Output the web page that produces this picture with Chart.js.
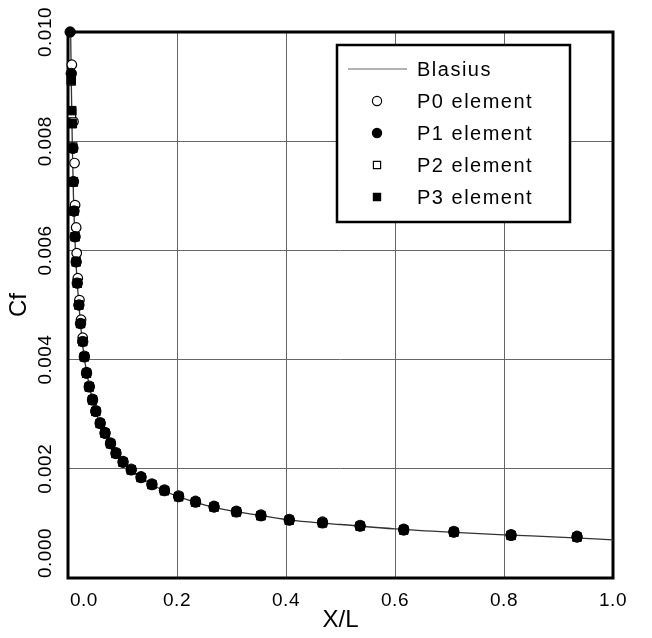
<!DOCTYPE html>
<html>
<head>
<meta charset="utf-8">
<script src="https://cdn.jsdelivr.net/npm/chart.js@4.4.1/dist/chart.umd.min.js"></script>
<style>
  html, body { margin: 0; padding: 0; background: #fff; }
  #wrap { width: 652px; height: 638px; }
</style>
</head>
<body>
<div id="wrap"><canvas id="cf"></canvas></div>
<script>
// values
const blasiusX  = [0.005, 0.006, 0.008, 0.010, 0.012, 0.014, 0.017, 0.020, 0.025, 0.030, 0.035, 0.040, 0.050, 0.060, 0.070, 0.080, 0.090, 0.100, 0.120, 0.140, 0.160, 0.180, 0.200, 0.250, 0.300, 0.350, 0.400, 0.450, 0.500, 0.600, 0.700, 0.800, 0.900, 1.000];
const blasiusCf = [0.0099, 0.0091, 0.0079, 0.0070, 0.0064, 0.0059, 0.0054, 0.00500, 0.00445, 0.00402, 0.00373, 0.00348, 0.00308, 0.00280, 0.00261, 0.00243, 0.00228, 0.00214, 0.00195, 0.00180, 0.00168, 0.00158, 0.00150, 0.00134, 0.00123, 0.00115, 0.00107, 0.00102, 0.00098, 0.00090, 0.00084, 0.00079, 0.00075, 0.00070];

const p0X  = [0.007, 0.010, 0.012, 0.013, 0.015, 0.016, 0.018, 0.021, 0.024, 0.027, 0.030, 0.034, 0.039, 0.045, 0.051, 0.059, 0.068, 0.078, 0.088, 0.101, 0.116, 0.134, 0.154, 0.177, 0.203, 0.234, 0.268, 0.309, 0.354, 0.406, 0.467, 0.536, 0.616, 0.708, 0.813, 0.934];
const p0Cf = [0.00940, 0.00836, 0.00760, 0.00683, 0.00642, 0.00595, 0.00549, 0.00509, 0.00473, 0.00440, 0.00407, 0.00377, 0.00352, 0.00328, 0.00307, 0.00285, 0.00267, 0.00248, 0.00230, 0.00214, 0.00200, 0.00186, 0.00173, 0.00162, 0.00151, 0.00141, 0.00132, 0.00123, 0.00116, 0.00108, 0.00103, 0.00097, 0.00090, 0.00086, 0.00080, 0.00077];

const p1X  = [0.004, 0.006, 0.009, 0.010, 0.011, 0.013, 0.015, 0.017, 0.020, 0.023, 0.027, 0.030, 0.034, 0.039, 0.045, 0.051, 0.059, 0.068, 0.078, 0.088, 0.101, 0.116, 0.134, 0.154, 0.177, 0.203, 0.234, 0.268, 0.309, 0.354, 0.406, 0.467, 0.536, 0.616, 0.708, 0.813, 0.934];
const p1Cf = [0.01000, 0.00924, 0.00787, 0.00726, 0.00672, 0.00625, 0.00579, 0.00540, 0.00500, 0.00466, 0.00433, 0.00405, 0.00375, 0.00350, 0.00326, 0.00305, 0.00283, 0.00265, 0.00246, 0.00228, 0.00212, 0.00198, 0.00184, 0.00171, 0.00160, 0.00149, 0.00139, 0.00130, 0.00121, 0.00114, 0.00106, 0.00101, 0.00095, 0.00088, 0.00084, 0.00078, 0.00075];

const p2X  = [0.006, 0.007, 0.009, 0.010, 0.011, 0.013, 0.015, 0.017, 0.020, 0.023, 0.027, 0.030, 0.034, 0.039, 0.045, 0.051, 0.059, 0.068, 0.078, 0.088, 0.101, 0.116, 0.134, 0.154, 0.177, 0.203, 0.234, 0.268, 0.309, 0.354, 0.406, 0.467, 0.536, 0.616, 0.708, 0.813, 0.934];
const p2Cf = [0.00910, 0.00850, 0.00790, 0.00725, 0.00672, 0.00625, 0.00579, 0.00540, 0.00500, 0.00466, 0.00433, 0.00405, 0.00375, 0.00350, 0.00326, 0.00305, 0.00283, 0.00265, 0.00246, 0.00228, 0.00212, 0.00198, 0.00184, 0.00171, 0.00160, 0.00149, 0.00139, 0.00130, 0.00121, 0.00114, 0.00106, 0.00101, 0.00095, 0.00088, 0.00084, 0.00078, 0.00075];

const p3X  = [0.006, 0.007, 0.008, 0.009, 0.010, 0.011, 0.013, 0.015, 0.017, 0.020, 0.023, 0.027, 0.030, 0.034, 0.039, 0.045, 0.051, 0.059, 0.068, 0.078, 0.088, 0.101, 0.116, 0.134, 0.154, 0.177, 0.203, 0.234, 0.268, 0.309, 0.354, 0.406, 0.467, 0.536, 0.616, 0.708, 0.813, 0.934];
const p3Cf = [0.00912, 0.00856, 0.00832, 0.00787, 0.00726, 0.00672, 0.00625, 0.00579, 0.00540, 0.00500, 0.00466, 0.00433, 0.00405, 0.00375, 0.00350, 0.00326, 0.00305, 0.00283, 0.00265, 0.00246, 0.00228, 0.00212, 0.00198, 0.00184, 0.00171, 0.00160, 0.00149, 0.00139, 0.00130, 0.00121, 0.00114, 0.00106, 0.00101, 0.00095, 0.00088, 0.00084, 0.00078, 0.00075];

const seriesLabels = ['Blasius', 'P0 element', 'P1 element', 'P2 element', 'P3 element'];
const xTicks = { min: 0, max: 1, step: 0.2 };
const yTicks = { min: 0, max: 0.010, step: 0.002 };

const FONT = '"Liberation Sans", Arial, Helvetica, sans-serif';
const toPoints = (xs, ys) => xs.map((x, i) => ({ x: x, y: ys[i] }));

let drawMarker = (ctx, style, r, filled, x, y) => {
    ctx.beginPath();
    if (style === 'rect') {
        ctx.rect(x - r, y - r, 2 * r, 2 * r);
    } else {
        ctx.arc(x, y, r, 0, Math.PI * 2);
    }
    ctx.fillStyle = filled ? '#000' : '#fff';
    ctx.fill();
    ctx.lineWidth = 1.2;
    ctx.strokeStyle = '#000';
    ctx.stroke();
};

// frame + rotated tick labels, the way the plot shows them
const frameAndTicks = {
    id: 'frameAndTicks',
    beforeDatasetsDraw(chart) {
        const { ctx, chartArea: a } = chart;
        ctx.save();
        ctx.lineWidth = 3;
        ctx.strokeStyle = '#000';
        ctx.strokeRect(a.left, a.top, a.right - a.left, a.bottom - a.top);
        ctx.restore();
    },
    afterDraw(chart) {
        const { ctx, chartArea: a, scales } = chart;
        ctx.save();
        ctx.fillStyle = '#000';
        ctx.font = '19px ' + FONT;
        ctx.letterSpacing = '0.5px';
        ctx.textBaseline = 'middle';

        scales.x.ticks.forEach((t, i) => {
            const px = scales.x.getPixelForValue(t.value);
            ctx.textAlign = i === 0 ? 'left' : 'center';
            ctx.fillText(t.value.toFixed(1), i === 0 ? px + 2 : px, a.bottom + 23);
        });

        scales.y.ticks.forEach((t, i) => {
            const py = scales.y.getPixelForValue(t.value);
            ctx.save();
            ctx.translate(a.left - 22, i === 0 ? a.bottom : py);
            ctx.rotate(-Math.PI / 2);
            ctx.textAlign = i === 0 ? 'left' : 'center';
            ctx.fillText(t.value.toFixed(3), 0, 0);
            ctx.restore();
        });
        ctx.restore();
    }
};

const insideLegend = {
    id: 'insideLegend',
    afterDatasetsDraw(chart) {
        const { ctx, chartArea: a } = chart;
        const w = 233, h = 177;
        const left = a.right - 43 - w;
        const top = a.top + 13;
        ctx.save();
        ctx.fillStyle = '#fff';
        ctx.fillRect(left, top, w, h);
        ctx.lineWidth = 2.5;
        ctx.strokeStyle = '#000';
        ctx.strokeRect(left, top, w, h);

        ctx.font = '20px ' + FONT;
        ctx.letterSpacing = '1.5px';
        ctx.textBaseline = 'middle';
        chart.data.datasets.forEach((ds, i) => {
            const y = top + 24 + i * 32;
            if (ds.showLine) {
                ctx.beginPath();
                ctx.moveTo(left + 11, y);
                ctx.lineTo(left + 70, y);
                ctx.lineWidth = 1.5;
                ctx.strokeStyle = '#999';
                ctx.stroke();
            } else {
                const r = ds.pointStyle === 'rect' ? 3.6 : 4.6;
                drawMarker(ctx, ds.pointStyle, r, ds.backgroundColor === '#000', left + 40, y);
            }
            ctx.fillStyle = '#000';
            ctx.textAlign = 'left';
            ctx.fillText(ds.label, left + 80, y + 1);
        });
        ctx.restore();
    }
};

new Chart(document.getElementById('cf'), {
    type: 'scatter',
    data: {
        datasets: [{
            label: seriesLabels[0],
            data: toPoints(blasiusX, blasiusCf),
            showLine: true,
            pointRadius: 0,
            borderColor: '#333',
            borderWidth: 1.3,
            cubicInterpolationMode: 'monotone',
            order: 5
        }, {
            label: seriesLabels[1],
            data: toPoints(p0X, p0Cf),
            pointStyle: 'circle',
            pointRadius: 4.8,
            backgroundColor: '#fff',
            borderColor: '#000',
            borderWidth: 1.2,
            clip: false,
            order: 4
        }, {
            label: seriesLabels[2],
            data: toPoints(p1X, p1Cf),
            pointStyle: 'circle',
            pointRadius: 5.2,
            backgroundColor: '#000',
            borderColor: '#000',
            borderWidth: 1,
            clip: false,
            order: 1
        }, {
            label: seriesLabels[3],
            data: toPoints(p2X, p2Cf),
            pointStyle: 'rect',
            pointRadius: 5.5,
            backgroundColor: '#fff',
            borderColor: '#000',
            borderWidth: 1.2,
            clip: false,
            order: 3
        }, {
            label: seriesLabels[4],
            data: toPoints(p3X, p3Cf),
            pointStyle: 'rect',
            pointRadius: 6,
            backgroundColor: '#000',
            borderColor: '#000',
            borderWidth: 1,
            clip: false,
            order: 2
        }]
    },
    options: {
        responsive: true,
        maintainAspectRatio: false,
        animation: false,
        devicePixelRatio: 1,
        layout: { padding: { top: 32, right: 39, left: 0, bottom: 0 } },
        scales: {
            x: {
                type: 'linear',
                min: xTicks.min,
                max: xTicks.max,
                ticks: { stepSize: xTicks.step, display: false },
                grid: { color: '#666', lineWidth: 1, drawTicks: false },
                border: { display: false },
                title: {
                    display: true,
                    text: 'X/L',
                    color: '#000',
                    font: { family: FONT, size: 24 },
                    padding: { top: 0, bottom: 3 }
                },
                afterFit: (s) => { s.height = 60; }
            },
            y: {
                type: 'linear',
                min: yTicks.min,
                max: yTicks.max,
                ticks: { stepSize: yTicks.step, display: false },
                grid: { color: '#666', lineWidth: 1, drawTicks: false },
                border: { display: false },
                title: {
                    display: true,
                    text: 'Cf',
                    color: '#000',
                    font: { family: FONT, size: 24 },
                    padding: { top: 5, bottom: 0 }
                },
                afterFit: (s) => { s.width = 68; }
            }
        },
        plugins: {
            legend: { display: false },
            tooltip: { enabled: false }
        }
    },
    plugins: [frameAndTicks, insideLegend]
});
</script>
</body>
</html>
